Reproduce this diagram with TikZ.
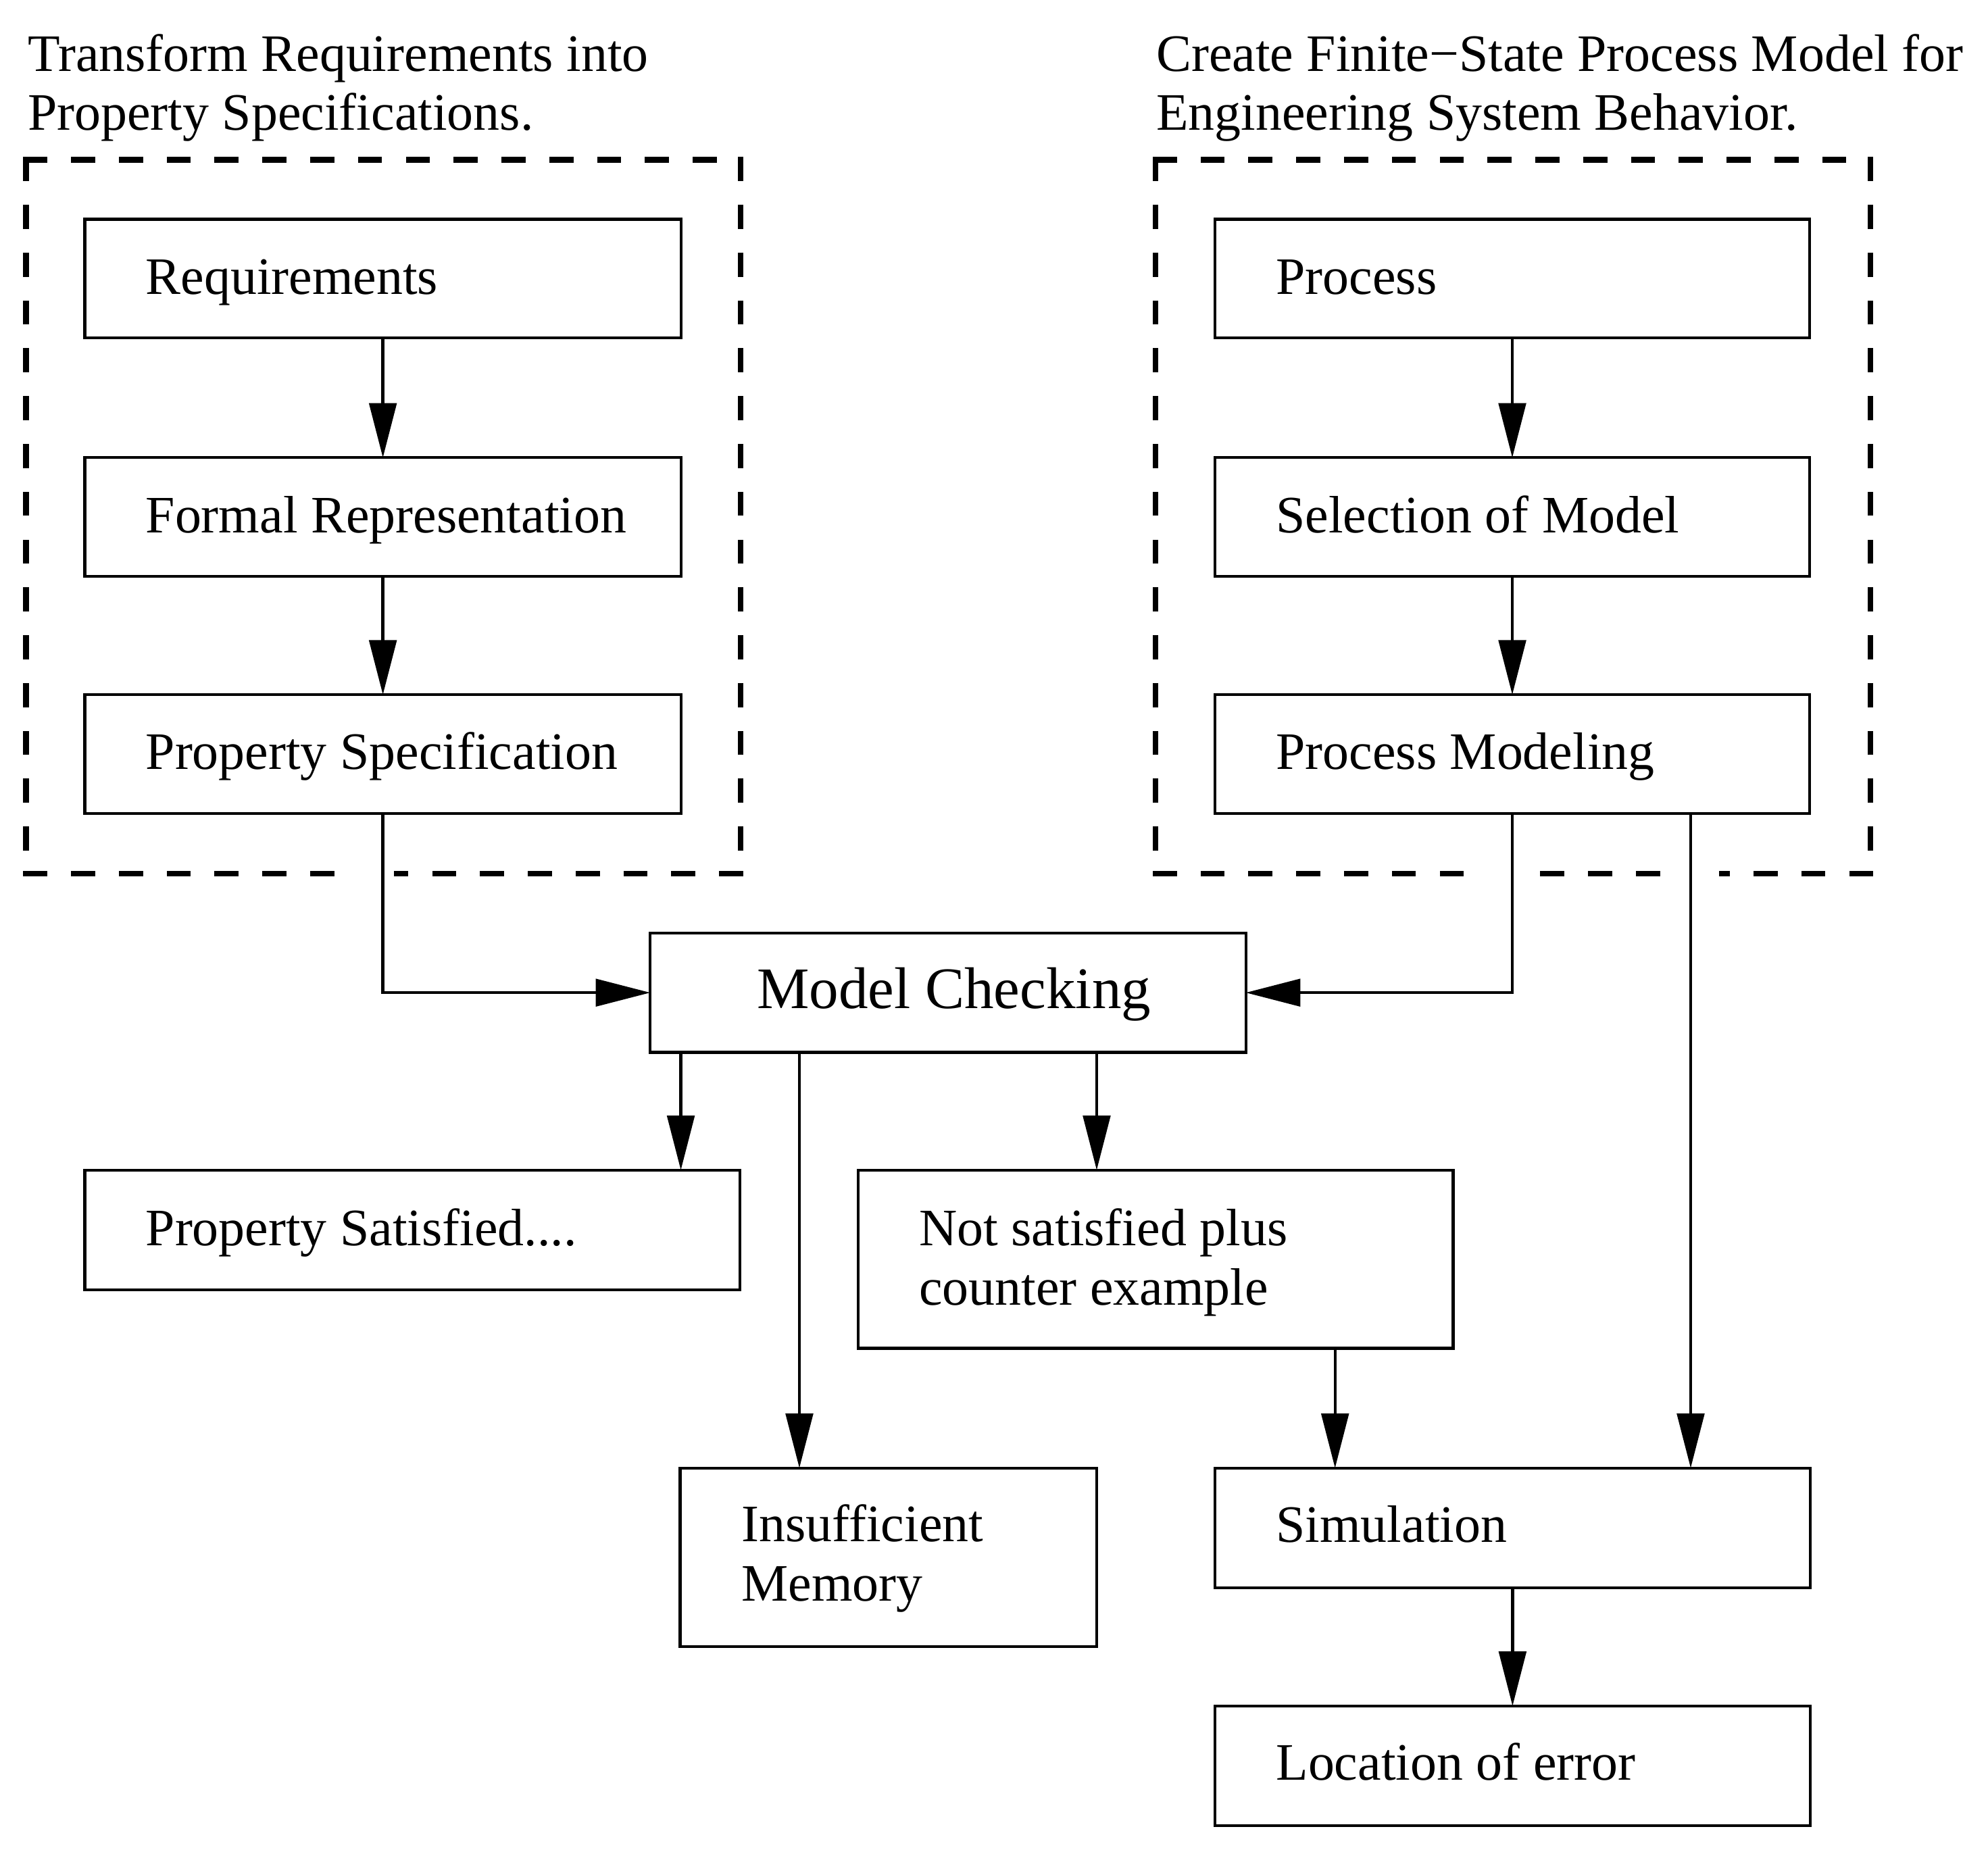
\documentclass[tikz,border=0pt]{standalone}
\usepackage{fontspec}
\setmainfont{Liberation Serif}
\usetikzlibrary{arrows.meta}
\begin{document}
\begin{tikzpicture}[x=0.01cm,y=-0.01cm,
  box/.style={draw, line width=0.65pt, rectangle, inner sep=0pt, outer sep=0pt},
  txt/.style={inner sep=0pt, outer sep=0pt, anchor=base west, font=\fontsize{11.8pt}{13.3pt}\selectfont},
  bigtxt/.style={inner sep=0pt, outer sep=0pt, anchor=base west, font=\fontsize{13.2pt}{15pt}\selectfont},
  arr/.style={draw, line width=0.65pt, -{Triangle[length=0.43cm,width=0.215cm]}},
  frame/.style={line width=1.25pt, line cap=rect, dash pattern=on 0.146cm off 0.231cm}]
\path[use as bounding box] (0,0) rectangle (1568,1460.8);

% titles
\node[txt] (t1) at (22,56) {\parbox[t]{6cm}{Transform Requirements into\\Property Specifications.}};
\node[txt] (t2) at (912,56) {\parbox[t]{7cm}{Create Finite−State Process Model for\\Engineering System Behavior.}};

% dashed frames (left)
\draw[frame] (20.5,126) -- (584,126);
\draw[frame] (20.5,126) -- (20.5,689);
\draw[frame] (584,126) -- (584,689);
\draw[frame] (20.5,689) -- (264,689);
\draw[frame] (584,689) -- (313,689);
% dashed frames (right)
\draw[frame] (911.4,126) -- (1475.3,126);
\draw[frame] (911.4,126) -- (911.4,689);
\draw[frame] (1475.3,126) -- (1475.3,689);
\draw[frame] (911.4,689) -- (1155,689);
\draw[frame] (1217,689) -- (1312,689);
\draw[frame] (1475.3,689) -- (1358,689);

% left column
\node[box, minimum width=4.70cm, minimum height=0.935cm] (req) at (302,219.75) {};
\node[txt] (reqT) at (115,232) {Requirements};
\node[box, minimum width=4.70cm, minimum height=0.935cm] (formal) at (302,407.75) {};
\node[txt] (formalT) at (115,420) {Formal Representation};
\node[box, minimum width=4.70cm, minimum height=0.935cm] (pspec) at (302,594.75) {};
\node[txt] (pspecT) at (115,607) {Property Specification};

% right column
\node[box, minimum width=4.69cm, minimum height=0.935cm] (proc) at (1192.8,219.75) {};
\node[txt] (procT) at (1006.5,232) {Process};
\node[box, minimum width=4.69cm, minimum height=0.935cm] (sel) at (1192.8,407.75) {};
\node[txt] (selT) at (1006.5,420) {Selection of Model};
\node[box, minimum width=4.69cm, minimum height=0.935cm] (pmod) at (1192.8,594.75) {};
\node[txt] (pmodT) at (1006.5,607) {Process Modeling};

% model checking
\node[box, minimum width=4.695cm, minimum height=0.94cm] (mc) at (747.75,783) {};
\node[bigtxt] (mcT) at (597,795.5) {Model Checking};

% results
\node[box, minimum width=5.165cm, minimum height=0.945cm] (psat) at (325.25,970.25) {};
\node[txt] (psatT) at (115,982.5) {Property Satisfied....};
\node[box, minimum width=4.69cm, minimum height=1.405cm] (nsat) at (911.5,993.25) {};
\node[txt] (nsatT) at (725,982.5) {\parbox[t]{4cm}{Not satisfied plus\\counter example}};
\node[box, minimum width=3.283cm, minimum height=1.406cm] (insuf) at (700.65,1228.3) {};
\node[txt] (insufT) at (585,1216.2) {\parbox[t]{3cm}{Insufficient\\Memory}};
\node[box, minimum width=4.692cm, minimum height=0.943cm] (sim) at (1193,1205.15) {};
\node[txt] (simT) at (1006.5,1216.5) {Simulation};
\node[box, minimum width=4.692cm, minimum height=0.943cm] (loc) at (1193,1392.85) {};
\node[txt] (locT) at (1006.5,1404.3) {Location of error};

% column coordinates
\coordinate (c537) at (537,0);
\coordinate (c630) at (630.5,0);
\coordinate (c865) at (865,0);
\coordinate (c1053) at (1053,0);
\coordinate (c1333) at (1333.5,0);

% connectors
\draw[arr] (req.south) -- (formal.north);
\draw[arr] (formal.south) -- (pspec.north);
\draw[arr] (proc.south) -- (sel.north);
\draw[arr] (sel.south) -- (pmod.north);
\draw[arr] (pspec.south) |- (mc.west);
\draw[arr] (pmod.south) |- (mc.east);
\draw[arr] (pmod.south -| c1333) -- (sim.north -| c1333);
\draw[arr] (mc.south -| c537) -- (psat.north -| c537);
\draw[arr] (mc.south -| c630) -- (insuf.north -| c630);
\draw[arr] (mc.south -| c865) -- (nsat.north -| c865);
\draw[arr] (nsat.south -| c1053) -- (sim.north -| c1053);
\draw[arr] (sim.south) -- (loc.north);
\end{tikzpicture}
\end{document}
